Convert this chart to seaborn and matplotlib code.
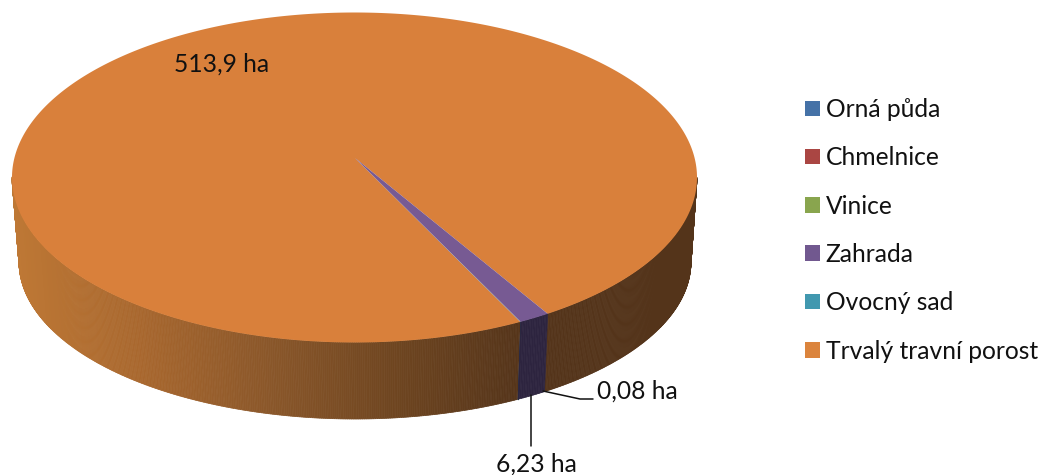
import numpy as np
import seaborn as sns
import matplotlib
matplotlib.use("Agg")
import matplotlib.pyplot as plt
from matplotlib.collections import PolyCollection
from matplotlib.patches import Patch, Polygon

# values (ha)
categories = ["Orná půda", "Chmelnice", "Vinice", "Zahrada", "Ovocný sad", "Trvalý travní porost"]
values = [0, 0, 0, 6.23, 0.08, 513.9]
legend_colors = ["#4572A7", "#AA4643", "#89A54E", "#71588F", "#4198AF", "#DB843D"]
top_colors = ["#4572A7", "#AA4643", "#89A54E", "#775A93", "#4198AF", "#D9803B"]
wall_colors = ["#22395A", "#552320", "#445327", "#2D243F", "#204C57", None]
orange_wall = ["#BE7835", "#A8672E", "#8A572A", "#6E4520", "#54341A"]

sns.set_theme(style="white")
plt.rcParams["font.family"] = ["Lato", "DejaVu Sans"]

FIRST_ANGLE = 152.75  # clockwise from 12 o'clock
# apex of the pie sits off the ellipse centre because of the perspective
APEX = complex(0.5 / 342.5, 19.5 / 165)


def rim(theta):
    z = np.exp(1j * np.deg2rad(90 - theta))
    return (z + APEX) / (1 + np.conj(APEX) * z)


def top_xy(w):
    return np.column_stack([354.5 + 342.5 * np.real(w), 177.5 - 165 * np.imag(w)])


def bottom_xy(w):
    return np.column_stack([355 + 336 * np.real(w), 262 - 157 * np.imag(w)])


fig = plt.figure(figsize=(10.43, 4.75), dpi=100, facecolor="w")
ax = fig.add_axes([0, 0, 1, 1])
ax.set_xlim(0, 1043)
ax.set_ylim(475, 0)
ax.axis("off")

ramp = sns.blend_palette(orange_wall, 256)
total = sum(values)
start = FIRST_ANGLE
apex_xy = top_xy(np.array([APEX]))[0]

spans = []
for i, v in enumerate(values):
    spans.append((i, start, start + 360 * v / total))
    start += 360 * v / total

# big slice first, the sliver next, so Zahrada covers the sliver as in the picture
for i, a0, a1 in [spans[5], spans[4], spans[3]]:
    n = max(2, int((a1 - a0) / 0.25))
    w = rim(np.linspace(a0, a1, n))

    # side wall, only the part turned to the viewer
    top, bot = top_xy(w), bottom_xy(w)
    quads, cols = [], []
    for k in range(n - 1):
        if w[k].imag > 0 and w[k + 1].imag > 0:
            continue
        quads.append([top[k], top[k + 1], bot[k + 1], bot[k]])
        if wall_colors[i] is None:
            t = np.clip((top[k][0] - 12) / (525 - 12), 0, 1)
            cols.append(ramp[int(t * 255)])
        else:
            cols.append(wall_colors[i])
    if quads:
        ax.add_collection(PolyCollection(quads, facecolors=cols, edgecolors=cols, linewidths=0.5, zorder=2))

    ax.add_patch(Polygon(np.vstack([apex_xy, top]), closed=True, facecolor=top_colors[i],
                         edgecolor="none", zorder=3))


def ha(v):
    return f"{v} ha".replace(".", ",")


# data labels and leader lines
ax.text(222, 64, ha(values[5]), fontsize=17.7, color="#111111", ha="center", va="center", zorder=5)
ax.text(637, 391, ha(values[4]), fontsize=17.7, color="#111111", ha="center", va="center", zorder=5)
ax.text(536, 464, ha(values[3]), fontsize=17.7, color="#111111", ha="center", va="center", zorder=5)
ax.plot([543, 580, 593], [391, 399, 399], color="#111111", lw=1.1, zorder=4)
ax.plot([530.5, 530.5], [395, 446], color="#111111", lw=1.1, zorder=4)

handles = [Patch(facecolor=c, edgecolor="none", label=l) for c, l in zip(legend_colors, categories)]
ax.legend(
    handles=handles, loc="upper left", bbox_to_anchor=(805 / 1043, 1 - 98 / 475),
    frameon=False, fontsize=17.7, labelcolor="#111111", borderpad=0, borderaxespad=0,
    handlelength=0.6, handleheight=0.6, handletextpad=0.24, labelspacing=1.03,
)

plt.savefig("out.png", dpi=100)
